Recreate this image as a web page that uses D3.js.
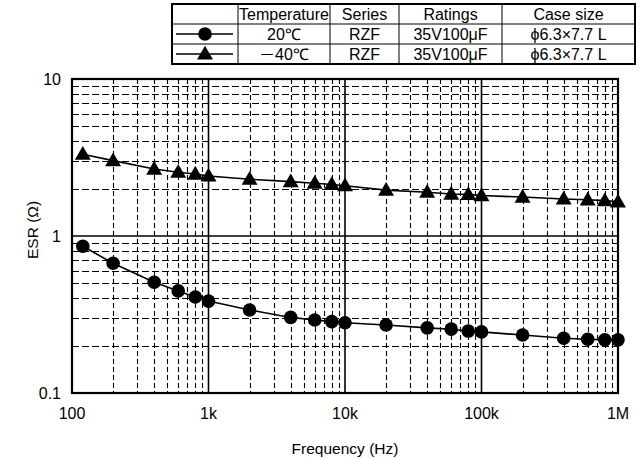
<!DOCTYPE html>
<html>
<head>
<meta charset="utf-8">
<script src="https://cdnjs.cloudflare.com/ajax/libs/d3/7.8.5/d3.min.js"></script>
<style>
  body { margin: 0; background: #fff; }
  text { font-family: "Liberation Sans", Arial, sans-serif; fill: #000; }
</style>
</head>
<body>
<script>
(function(){

  //frequencies measured (Hz)
  var freqs = [120, 200, 400, 600, 800, 1000, 2000, 4000, 6000, 8000, 10000, 20000, 40000, 60000, 80000, 100000, 200000, 400000, 600000, 800000, 1000000];
  //ESR values (ohm)
  var esr20 = [0.86, 0.67, 0.507, 0.447, 0.409, 0.385, 0.338, 0.303, 0.292, 0.285, 0.280, 0.271, 0.260, 0.255, 0.248, 0.245, 0.234, 0.223, 0.220, 0.218, 0.218];
  var esrMinus40 = [3.32, 3.02, 2.67, 2.55, 2.48, 2.41, 2.30, 2.22, 2.17, 2.13, 2.09, 1.96, 1.90, 1.85, 1.84, 1.81, 1.77, 1.72, 1.70, 1.68, 1.65];

  var xTicks = [100, 1000, 10000, 100000, 1000000];
  var xTickLabels = ["100", "1k", "10k", "100k", "1M"];
  var yTicks = [0.1, 1, 10];
  var yTickLabels = ["0.1", "1", "10"];

  //legend table
  var legendHeader = ["", "Temperature", "Series", "Ratings", "Case size"];
  var legendRows = [
    ["circle", "20\u2103", "RZF", "35V100\u03bcF", "\u03d56.3\u00d77.7 L"],
    ["triangle", "\uff0d40\u2103", "RZF", "35V100\u03bcF", "\u03d56.3\u00d77.7 L"]
  ];

  var width = 644,
      height = 459,
      margin = {left: 72, top: 79, right: 26, bottom: 66},
      innerW = width - margin.left - margin.right,
      innerH = height - margin.top - margin.bottom;

  var svg = d3.select("body")
    .append("svg")
    .attr("width", width)
    .attr("height", height);

  var x = d3.scaleLog() //frequency axis
    .domain([100, 1000000])
    .range([margin.left, margin.left + innerW]);

  var y = d3.scaleLog() //ESR axis
    .domain([0.1, 10])
    .range([margin.top + innerH, margin.top]);

  //minor grid values 2..9 in each decade
  var minorX = [], minorY = [];
  [100, 1000, 10000, 100000].forEach(function(d){
    for (var k=2; k<10; k++) minorX.push(d * k);
  });
  [0.1, 1].forEach(function(d){
    for (var k=2; k<10; k++) minorY.push(d * k);
  });

  var grid = svg.append("g").attr("class", "grid");

  grid.selectAll(".vminor")
    .data(minorX)
    .enter()
    .append("line")
    .attr("x1", function(d){ return Math.round(x(d)) + 0.5; })
    .attr("x2", function(d){ return Math.round(x(d)) + 0.5; })
    .attr("y1", margin.top)
    .attr("y2", margin.top + innerH)
    .attr("stroke", "#000")
    .attr("stroke-width", 1.1)
    .attr("stroke-dasharray", "5,3");

  grid.selectAll(".hminor")
    .data(minorY)
    .enter()
    .append("line")
    .attr("y1", function(d){ return Math.round(y(d)) + 0.5; })
    .attr("y2", function(d){ return Math.round(y(d)) + 0.5; })
    .attr("x1", margin.left)
    .attr("x2", margin.left + innerW)
    .attr("stroke", "#000")
    .attr("stroke-width", 1.1)
    .attr("stroke-dasharray", "7,3");

  //solid decade lines
  grid.selectAll(".vmajor")
    .data(xTicks.slice(1, -1))
    .enter()
    .append("line")
    .attr("x1", function(d){ return x(d); })
    .attr("x2", function(d){ return x(d); })
    .attr("y1", margin.top)
    .attr("y2", margin.top + innerH)
    .attr("stroke", "#000")
    .attr("stroke-width", 1.6);

  grid.append("line")
    .attr("x1", margin.left)
    .attr("x2", margin.left + innerW)
    .attr("y1", y(1))
    .attr("y2", y(1))
    .attr("stroke", "#000")
    .attr("stroke-width", 1.6);

  //plot frame
  svg.append("rect")
    .attr("x", margin.left)
    .attr("y", margin.top)
    .attr("width", innerW)
    .attr("height", innerH)
    .attr("fill", "none")
    .attr("stroke", "#000")
    .attr("stroke-width", 2.2);

  //tick labels
  svg.selectAll(".xlabel")
    .data(xTicks)
    .enter()
    .append("text")
    .attr("x", function(d){ return x(d); })
    .attr("y", margin.top + innerH + 26)
    .attr("text-anchor", "middle")
    .attr("font-size", 16)
    .text(function(d, i){ return xTickLabels[i]; });

  svg.selectAll(".ylabel")
    .data(yTicks)
    .enter()
    .append("text")
    .attr("x", margin.left - 11)
    .attr("y", function(d){ return y(d); })
    .attr("dy", "0.35em")
    .attr("text-anchor", "end")
    .attr("font-size", 16)
    .text(function(d, i){ return yTickLabels[i]; });

  //axis titles
  svg.append("text")
    .attr("x", margin.left + innerW / 2)
    .attr("y", 454)
    .attr("text-anchor", "middle")
    .attr("font-size", 15.5)
    .text("Frequency (Hz)");

  svg.append("text")
    .attr("transform", "translate(38," + (margin.top + innerH / 2 - 6) + ") rotate(-90)")
    .attr("text-anchor", "middle")
    .attr("font-size", 15.5)
    .text("ESR (\u03a9)");

  //symbols
  var triangle = d3.symbol().type(d3.symbolTriangle).size(110);

  function drawSeries(values, shape){
    var pts = freqs.map(function(f, i){ return [x(f), y(values[i])]; });
    svg.append("path")
      .attr("d", d3.line()(pts))
      .attr("fill", "none")
      .attr("stroke", "#000")
      .attr("stroke-width", 1.6);
    if (shape == "circle"){
      svg.selectAll(".c")
        .data(pts)
        .enter()
        .append("circle")
        .attr("cx", function(d){ return d[0]; })
        .attr("cy", function(d){ return d[1]; })
        .attr("r", 6.8)
        .attr("fill", "#000");
    } else {
      svg.selectAll(".t")
        .data(pts)
        .enter()
        .append("path")
        .attr("d", triangle)
        .attr("transform", function(d){ return "translate(" + d[0] + "," + (d[1] + 1) + ")"; })
        .attr("fill", "#000");
    }
  };

  drawSeries(esr20, "circle");
  drawSeries(esrMinus40, "triangle");

  //legend table
  var colX = [172, 238, 330, 399, 502, 635],
      rowY = [4, 24, 44, 64];
  var table = svg.append("g").attr("class", "legend");

  table.append("rect")
    .attr("x", colX[0])
    .attr("y", rowY[0])
    .attr("width", colX[5] - colX[0])
    .attr("height", rowY[3] - rowY[0])
    .attr("fill", "#fff")
    .attr("stroke", "#000")
    .attr("stroke-width", 2);

  table.selectAll(".rowline")
    .data(rowY.slice(1, -1))
    .enter()
    .append("line")
    .attr("x1", colX[0])
    .attr("x2", colX[5])
    .attr("y1", function(d){ return d; })
    .attr("y2", function(d){ return d; })
    .attr("stroke", "#000")
    .attr("stroke-width", 1);

  table.selectAll(".colline")
    .data(colX.slice(1, -1))
    .enter()
    .append("line")
    .attr("x1", function(d){ return d; })
    .attr("x2", function(d){ return d; })
    .attr("y1", rowY[0])
    .attr("y2", rowY[3])
    .attr("stroke", "#000")
    .attr("stroke-width", 1);

  var allRows = [legendHeader].concat(legendRows);
  allRows.forEach(function(row, r){
    var cy = (rowY[r] + rowY[r + 1]) / 2;
    row.forEach(function(cell, c){
      if (c == 0){
        if (cell == "") return;
        table.append("line")
          .attr("x1", colX[0] + 4)
          .attr("x2", colX[1] - 5)
          .attr("y1", cy)
          .attr("y2", cy)
          .attr("stroke", "#000")
          .attr("stroke-width", 1.6);
        var mx = (colX[0] + colX[1]) / 2;
        if (cell == "circle"){
          table.append("circle").attr("cx", mx).attr("cy", cy).attr("r", 6.8).attr("fill", "#000");
        } else {
          table.append("path").attr("d", triangle).attr("transform", "translate(" + mx + "," + (cy + 1) + ")").attr("fill", "#000");
        }
        return;
      }
      var t = table.append("text")
        .attr("x", (colX[c] + colX[c + 1]) / 2)
        .attr("y", cy)
        .attr("dy", "0.36em")
        .attr("text-anchor", "middle")
        .attr("font-size", 16);
      //full-width minus and degree sign look like the Japanese gothic of the original
      if (cell.charAt(0) == "\uff0d"){
        t.append("tspan").style("font-family", "'Noto Sans CJK JP'").text(cell.charAt(0));
        t.append("tspan").text(cell.slice(1));
      } else {
        t.text(cell);
      }
    });
  });
})();
</script>
</body>
</html>
